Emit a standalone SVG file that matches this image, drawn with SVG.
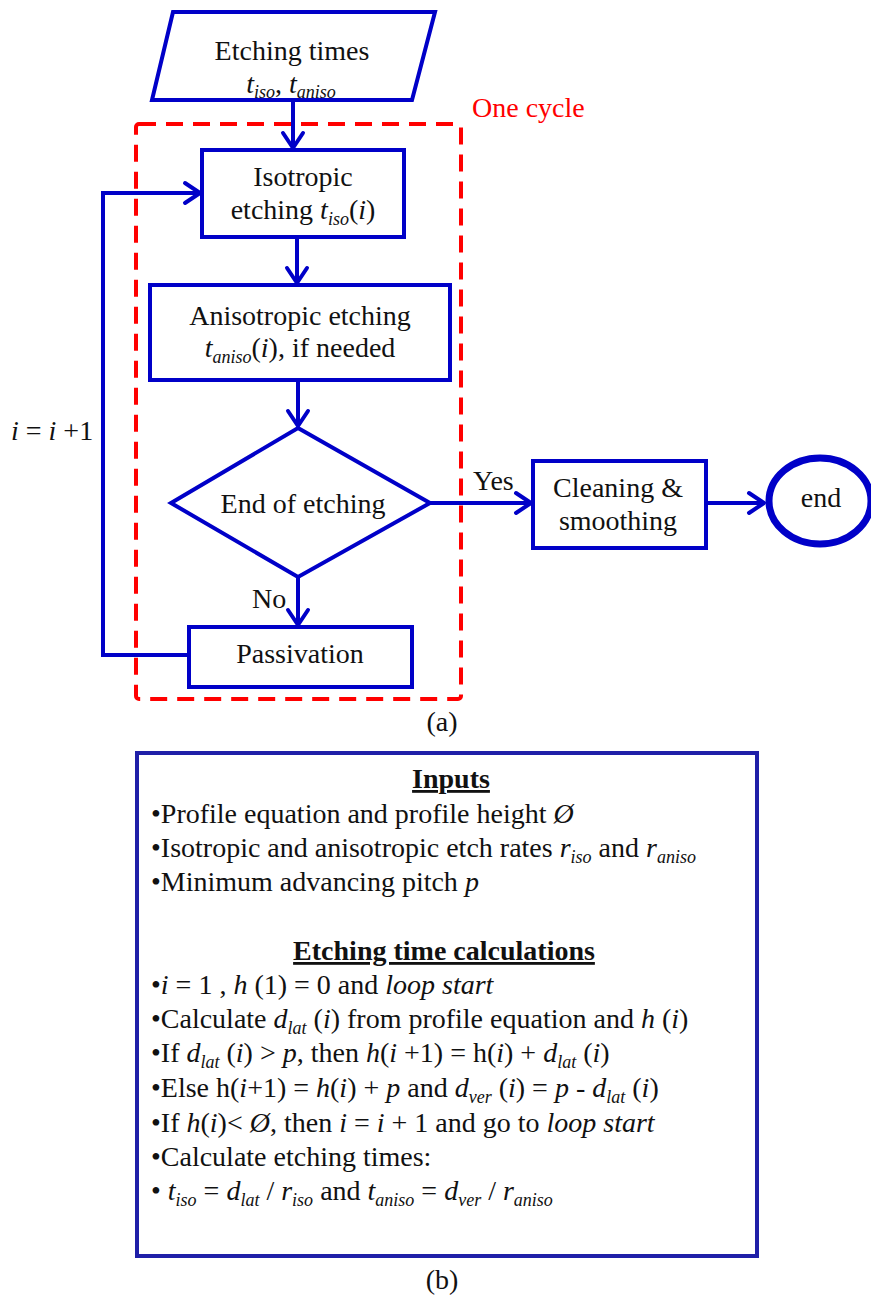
<svg xmlns="http://www.w3.org/2000/svg" width="871" height="1300" viewBox="0 0 871 1300">
<defs>
<style>
text{font-family:"Liberation Serif","Times New Roman",serif;font-size:28px;fill:#111;}
.it{font-style:italic;}
.sb{font-size:18px;}
.bold{font-weight:bold;text-decoration:underline;}
.node{fill:#fff;stroke:#0000c8;stroke-width:4;}
.conn{fill:none;stroke:#0000c8;stroke-width:4;}
.red{fill:#ff0000;}
</style>
<marker id="arr" markerUnits="userSpaceOnUse" markerWidth="30" markerHeight="30" viewBox="-20 -15 25 30" refX="0" refY="0" orient="auto" overflow="visible">
<path d="M-15,-10 L0,0 L-15,10" fill="none" stroke="#0000c8" stroke-width="4" stroke-linecap="round" stroke-linejoin="round"/>
</marker>
</defs>
<rect width="871" height="1300" fill="#fff"/>

<g id="cycle">
<rect x="136" y="124" width="325" height="575" rx="3" fill="none" stroke="#ff0000" stroke-width="4" stroke-dasharray="17 10"/>
<text x="472" y="117" class="red">One cycle</text>
</g>

<g id="connectors">
<line class="conn" x1="293" y1="100" x2="293" y2="148" marker-end="url(#arr)"/>
<line class="conn" x1="297" y1="237" x2="297" y2="283" marker-end="url(#arr)"/>
<line class="conn" x1="298" y1="380" x2="298" y2="426" marker-end="url(#arr)"/>
<line class="conn" x1="430" y1="503" x2="531" y2="503" marker-end="url(#arr)"/>
<line class="conn" x1="298" y1="577" x2="298" y2="625" marker-end="url(#arr)"/>
<line class="conn" x1="706" y1="503" x2="764" y2="503" marker-end="url(#arr)"/>
<polyline class="conn" points="189,655 103,655 103,193 200,193" marker-end="url(#arr)"/>
<text x="473" y="490" font-size="26">Yes</text>
<text x="252" y="608" font-size="27">No</text>
<text x="11" y="440"><tspan class="it">i</tspan> = <tspan class="it">i</tspan> +1</text>
</g>

<g id="input">
<polygon class="node" points="173,12 435,12 412,100 152,100"/>
<text x="292" y="60" text-anchor="middle">Etching times</text>
<text x="291" y="93" text-anchor="middle" font-size="26"><tspan class="it">t</tspan><tspan class="it sb" dy="5">iso</tspan><tspan dy="-5">, </tspan><tspan class="it">t</tspan><tspan class="it sb" dy="5">aniso</tspan></text>
</g>

<g id="isotropic">
<rect class="node" x="202" y="150" width="202" height="87"/>
<text x="303" y="186" text-anchor="middle">Isotropic</text>
<text x="303" y="219" text-anchor="middle">etching <tspan class="it">t</tspan><tspan class="it sb" dy="6">iso</tspan><tspan dy="-6">(</tspan><tspan class="it">i</tspan>)</text>
</g>

<g id="anisotropic">
<rect class="node" x="150" y="285" width="300" height="95"/>
<text x="300" y="325" text-anchor="middle">Anisotropic etching</text>
<text x="300" y="357" text-anchor="middle"><tspan class="it">t</tspan><tspan class="it sb" dy="6">aniso</tspan><tspan dy="-6">(</tspan><tspan class="it">i</tspan>), if needed</text>
</g>

<g id="decision">
<polygon class="node" points="298,428 430,503 298,577 171,503"/>
<text x="303" y="513" text-anchor="middle">End of etching</text>
</g>

<g id="passivation">
<rect class="node" x="189" y="627" width="223" height="60"/>
<text x="300" y="663" text-anchor="middle">Passivation</text>
</g>

<g id="cleaning">
<rect class="node" x="533" y="461" width="173" height="87"/>
<text x="618" y="497" text-anchor="middle">Cleaning &amp;</text>
<text x="618" y="530" text-anchor="middle">smoothing</text>
</g>

<g id="end">
<ellipse cx="820" cy="501" rx="51" ry="43" fill="#fff" stroke="#0000c8" stroke-width="7"/>
<text x="821" y="507" text-anchor="middle">end</text>
</g>

<text x="442" y="731" text-anchor="middle">(a)</text>

<g id="panel-b">
<rect x="137" y="753" width="620" height="503" fill="#fff" stroke="#1f1fa8" stroke-width="4"/>
<text x="451" y="788" text-anchor="middle" class="bold">Inputs</text>
<text x="151" y="823">•Profile equation and profile  height <tspan class="it">Ø</tspan></text>
<text x="151" y="857">•Isotropic and anisotropic etch rates <tspan class="it">r</tspan><tspan class="it sb" dy="6">iso</tspan><tspan dy="-6"> and </tspan><tspan class="it">r</tspan><tspan class="it sb" dy="6">aniso</tspan></text>
<text x="151" y="891">•Minimum advancing pitch <tspan class="it">p</tspan></text>
<text x="444" y="960" text-anchor="middle" class="bold">Etching time calculations</text>
<text x="151" y="994">•<tspan class="it">i</tspan> = 1 , <tspan class="it">h</tspan> (1) = 0 and <tspan class="it">loop start</tspan></text>
<text x="151" y="1028">•Calculate <tspan class="it">d</tspan><tspan class="it sb" dy="6">lat</tspan><tspan dy="-6"> (</tspan><tspan class="it">i</tspan>) from profile equation and <tspan class="it">h</tspan> (<tspan class="it">i</tspan>)</text>
<text x="151" y="1062">•If <tspan class="it">d</tspan><tspan class="it sb" dy="6">lat</tspan><tspan dy="-6"> (</tspan><tspan class="it">i</tspan>) &gt; <tspan class="it">p</tspan>, then <tspan class="it">h</tspan>(<tspan class="it">i</tspan> +1) = h(<tspan class="it">i</tspan>) + <tspan class="it">d</tspan><tspan class="it sb" dy="6">lat</tspan><tspan dy="-6"> (</tspan><tspan class="it">i</tspan>)</text>
<text x="151" y="1097">•Else h(<tspan class="it">i</tspan>+1) = <tspan class="it">h</tspan>(<tspan class="it">i</tspan>) + <tspan class="it">p</tspan> and <tspan class="it">d</tspan><tspan class="it sb" dy="6">ver</tspan><tspan dy="-6"> (</tspan><tspan class="it">i</tspan>) = <tspan class="it">p</tspan> - <tspan class="it">d</tspan><tspan class="it sb" dy="6">lat</tspan><tspan dy="-6"> (</tspan><tspan class="it">i</tspan>)</text>
<text x="151" y="1132">•If <tspan class="it">h</tspan>(<tspan class="it">i</tspan>)&lt; <tspan class="it">Ø</tspan>, then <tspan class="it">i</tspan> = <tspan class="it">i</tspan> + 1 and go to <tspan class="it">loop start</tspan></text>
<text x="151" y="1166">•Calculate etching times:</text>
<text x="151" y="1200">• <tspan class="it">t</tspan><tspan class="it sb" dy="6">iso</tspan><tspan dy="-6"> = </tspan><tspan class="it">d</tspan><tspan class="it sb" dy="6">lat</tspan><tspan dy="-6"> / </tspan><tspan class="it">r</tspan><tspan class="it sb" dy="6">iso</tspan><tspan dy="-6"> and </tspan><tspan class="it">t</tspan><tspan class="it sb" dy="6">aniso</tspan><tspan dy="-6"> = </tspan><tspan class="it">d</tspan><tspan class="it sb" dy="6">ver</tspan><tspan dy="-6"> / </tspan><tspan class="it">r</tspan><tspan class="it sb" dy="6">aniso</tspan></text>
</g>

<text x="442" y="1289" text-anchor="middle">(b)</text>
</svg>
